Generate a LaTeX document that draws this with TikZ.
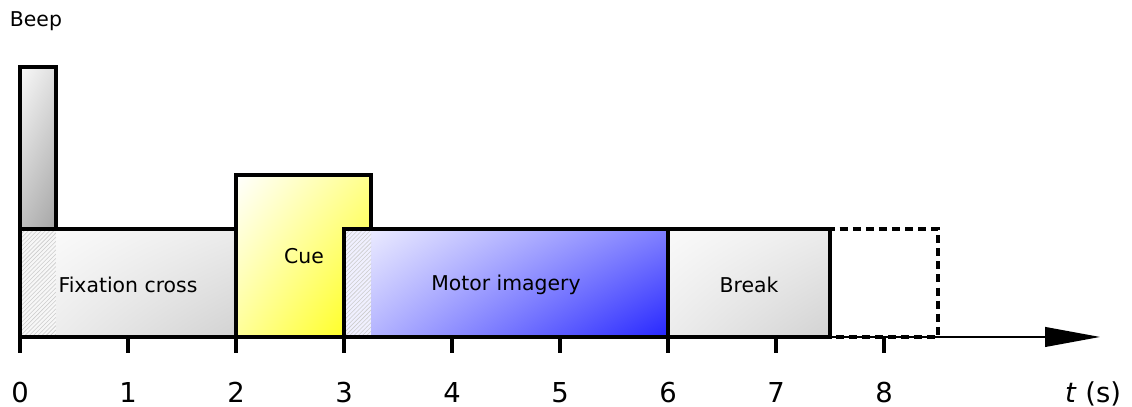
\documentclass[tikz,border=0pt]{standalone}
\usepackage{fontspec}
\setmainfont{DejaVu Sans}
\usetikzlibrary{arrows.meta,patterns,shadings}

\begin{document}
\begin{tikzpicture}[
    x=2.7cm, y=2.7cm,
    box/.style={draw, line width=2.5pt, line join=miter},
    hatch/.style={pattern=north east lines, pattern color=gray!40},
    tickmark/.style={line width=2.5pt},
    txt/.style={font=\fontsize{14.5}{17}\selectfont},
    num/.style={font=\fontsize{19.5}{22}\selectfont, anchor=base}
]
\useasboundingbox (-0.185,-0.648) rectangle (10.296,3.12);

% Beep
\shade[upper left=gray!5, upper right=gray!25, lower left=gray!50, lower right=gray!70] (0,1) rectangle (0.333,2.5);
\draw[box] (0,1) rectangle (0.333,2.5);
\node[txt] (beep) at (0.148,2.92) {Beep};

% Fixation cross
\shade[upper left=gray!4, upper right=gray!15, lower left=gray!15, lower right=gray!35] (0.333,0) rectangle (2,1);
\fill[gray!6] (0,0) rectangle (0.333,1);
\fill[hatch] (0,0) rectangle (0.333,1);
\draw[box] (0,0) rectangle (2,1);
\node[txt] (fix) at (1,0.48) {Fixation cross};

% Cue
\shade[upper left=white, upper right=yellow!45, lower left=yellow!40, lower right=yellow!95] (2,0) rectangle (3.25,1.5);
\draw[box] (2,0) rectangle (3.25,1.5);
\node[txt] (cue) at (2.63,0.75) {Cue};

% Motor imagery
\shade[upper left=blue!8, upper right=blue!50, lower left=blue!30, lower right=blue!85] (3.25,0) rectangle (6,1);
\fill[blue!6] (3,0) rectangle (3.25,1);
\fill[hatch] (3,0) rectangle (3.25,1);
\draw[box] (3,0) rectangle (6,1);
\node[txt] (mi) at (4.5,0.48) {Motor imagery};

% Break
\shade[upper left=gray!4, upper right=gray!15, lower left=gray!15, lower right=gray!35] (6,0) rectangle (7.5,1);
\draw[box] (6,0) rectangle (7.5,1);
\node[txt] (brk) at (6.75,0.48) {Break};

% Optional extra break
\draw[line width=2.5pt, dash pattern=on 5.7pt off 3.6pt] (7.5,0) rectangle (8.5,1);

% Time axis
\coordinate (origin) at (0,0);
\coordinate (tend) at (10,0);
\draw[line width=1.2pt, -{Triangle[length=39pt,width=14pt]}] (origin) -- (tend);
\foreach \x in {0,...,8} {
    \draw[tickmark] (\x,0) -- (\x,-0.15);
    \node[num] (n\x) at (\x,-0.605) {\x};
}
\node[num, anchor=base east] (tlabel) at (10.24,-0.605) {\textit{t} (s)};
\end{tikzpicture}
\end{document}
